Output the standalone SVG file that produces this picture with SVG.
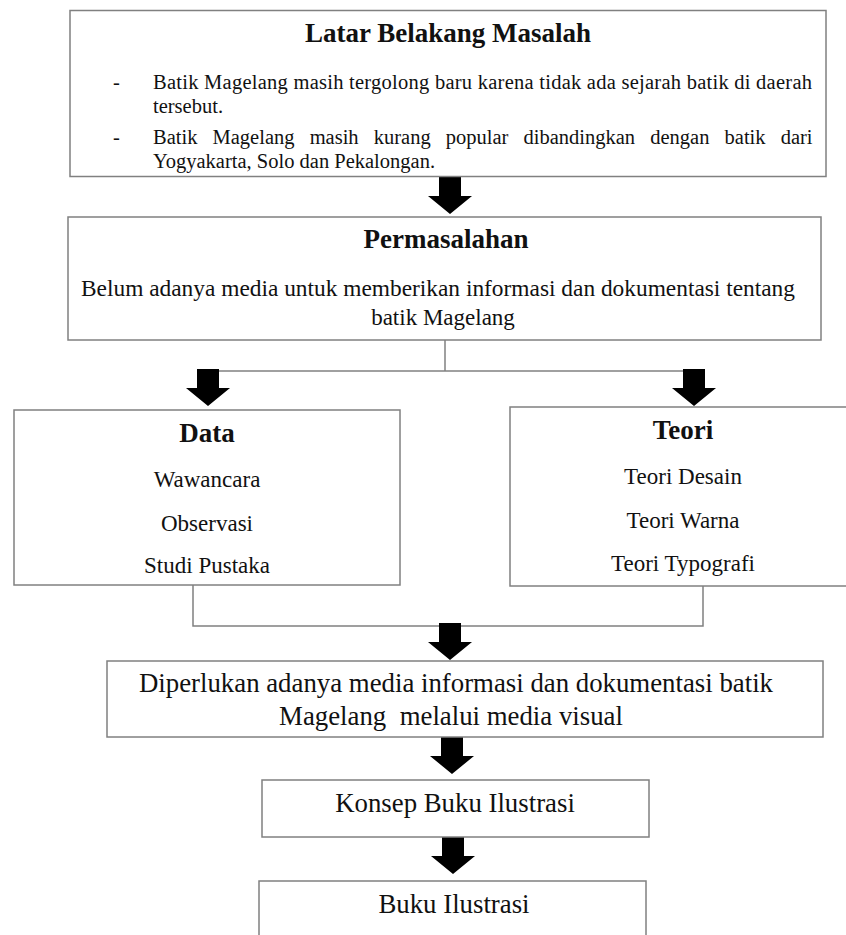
<svg xmlns="http://www.w3.org/2000/svg" width="846" height="935" viewBox="0 0 846 935">
<style>
.box{fill:#fff;stroke:#808080;stroke-width:1.5}
.ln{fill:none;stroke:#808080;stroke-width:1.5}
.arr{fill:#000}
text{font-family:"Liberation Serif","Times New Roman",serif;fill:#111}
.t{font-weight:bold;font-size:27px;text-anchor:middle}
.b{font-size:20.5px}
.m{font-size:23px;text-anchor:middle}
.l{font-size:26.8px;text-anchor:middle}
</style>
<defs>
<path id="ar" d="M-11,0 H11 V19 H22 L0,37 L-22,19 H-11 Z"/>
</defs>
<g id="connectors">
<polyline class="ln" points="445,340 445,371"/>
<polyline class="ln" points="208,371 694,371"/>
<polyline class="ln" points="193,585 193,626 703,626 703,586"/>
<use href="#ar" class="arr" transform="translate(450,177)"/>
<use href="#ar" class="arr" transform="translate(208,369)"/>
<use href="#ar" class="arr" transform="translate(694,369)"/>
<use href="#ar" class="arr" transform="translate(450,623)"/>
<use href="#ar" class="arr" transform="translate(452,737)"/>
<use href="#ar" class="arr" transform="translate(453,837)"/>
</g>
<g id="latar">
<rect class="box" x="70" y="10.5" width="756" height="166"/>
<text class="t" x="448" y="42">Latar Belakang Masalah</text>
<text class="b" x="113" y="89">-</text>
<text class="b" x="153" y="89" textLength="659" lengthAdjust="spacing">Batik Magelang masih tergolong baru karena tidak ada sejarah batik di daerah</text>
<text class="b" x="153" y="113">tersebut.</text>
<text class="b" x="113" y="144">-</text>
<text class="b" x="153" y="144" word-spacing="10">Batik Magelang masih kurang popular dibandingkan dengan batik dari</text>
<text class="b" x="153" y="168">Yogyakarta, Solo dan Pekalongan.</text>
</g>
<g id="permasalahan">
<rect class="box" x="68" y="217" width="753" height="123"/>
<text class="t" x="446" y="248">Permasalahan</text>
<text class="m" x="438" y="296" textLength="714" lengthAdjust="spacingAndGlyphs">Belum adanya media untuk memberikan informasi dan dokumentasi tentang</text>
<text class="m" x="443" y="325">batik Magelang</text>
</g>
<g id="data">
<rect class="box" x="14" y="410" width="386" height="175"/>
<text class="t" x="207" y="442">Data</text>
<text class="m" x="207" y="487">Wawancara</text>
<text class="m" x="207" y="531">Observasi</text>
<text class="m" x="207" y="573">Studi Pustaka</text>
</g>
<g id="teori">
<rect class="box" x="510" y="407" width="345" height="179"/>
<text class="t" x="683" y="439">Teori</text>
<text class="m" x="683" y="484">Teori Desain</text>
<text class="m" x="683" y="528">Teori Warna</text>
<text class="m" x="683" y="571">Teori Typografi</text>
</g>
<g id="diperlukan">
<rect class="box" x="107" y="661" width="716" height="76"/>
<text class="l" x="456" y="692">Diperlukan adanya media informasi dan dokumentasi batik</text>
<text class="l" x="451" y="725" xml:space="preserve">Magelang  melalui media visual</text>
</g>
<g id="konsep">
<rect class="box" x="262" y="780" width="387" height="57"/>
<text class="l" x="455" y="812">Konsep Buku Ilustrasi</text>
</g>
<g id="buku">
<rect class="box" x="259" y="881" width="387" height="70"/>
<text class="l" x="454" y="913">Buku Ilustrasi</text>
</g>
</svg>
